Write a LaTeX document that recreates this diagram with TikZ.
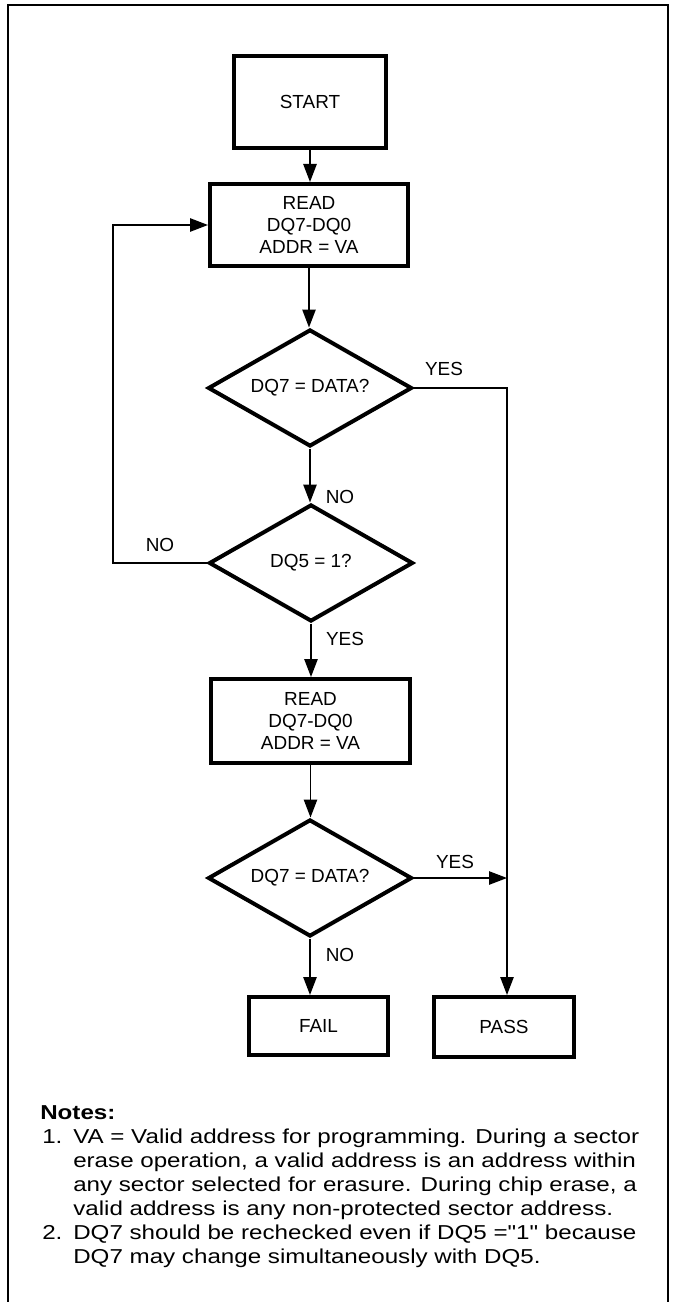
\documentclass[tikz,border=0pt]{standalone}
\usepackage{fontspec}
\setmainfont{Liberation Sans}
\newfontfamily\notesfont[FakeStretch=1.2]{Liberation Sans}
\usetikzlibrary{shapes.geometric,arrows.meta}
\newcommand\flowfont{\fontsize{14.2}{16.5}\selectfont}
\newcommand\notesize{\fontsize{15.1}{18}\selectfont}
\begin{document}
\begin{tikzpicture}[x=0.75pt,y=-0.75pt,
  box/.style={draw,line width=3pt,rectangle,inner sep=0pt,align=center,font=\flowfont},
  dia/.style={draw,line width=3pt,diamond,aspect=1.74,inner sep=0pt,font=\flowfont,
    minimum width=153pt,minimum height=87.75pt},
  conn/.style={line width=1.2pt},
  arr/.style={conn,-{Triangle[length=13.5pt,width=10pt]}},
  lbl/.style={font=\flowfont,inner sep=0pt},
  note/.style={font={\notesfont\notesize},anchor=base west,inner sep=0pt},
  frame/.style={line width=1.6pt}]
\useasboundingbox (0,0) rectangle (673,1302);
% frame
\draw[frame] (8,1302) -- (8,5) -- (668,5) -- (668,1302);
% nodes
\node[box,minimum width=114pt,minimum height=69pt] (start) at (310,102) {START};
\node[box,minimum width=148.5pt,minimum height=61.5pt] (read1) at (309,225) {READ\\DQ7-DQ0\\ADDR = VA};
\node[dia] (d1) at (310,388) {DQ7 = DATA?};
\node[dia] (d2) at (311,563) {DQ5 = 1?};
\node[box,minimum width=149pt,minimum height=63pt] (read2) at (310.5,721) {READ\\DQ7-DQ0\\ADDR = VA};
\node[dia] (d3) at (310,878) {DQ7 = DATA?};
\node[box,minimum width=104pt,minimum height=43.5pt] (fail) at (318.5,1026) {FAIL};
\node[box,minimum width=105pt,minimum height=45pt] (pass) at (504,1027) {PASS};
% coordinates
\coordinate (c1) at (507,388);
\coordinate (c2) at (113,563);
% connectors
\draw[arr] (start.south) -- (start.south |- read1.north);
\draw[arr] (read1.south) -- (read1.south |- d1.north);
\draw[arr] (d1.east) -- (c1) -- (c1 |- pass.north);
\draw[arr] (d1.south) -- (d1.south |- d2.north);
\draw[arr] (d2.west) -- (c2) |- (read1.west);
\draw[arr] (d2.south) -- (d2.south |- read2.north);
\draw[arr] (read2.south) -- (read2.south |- d3.north);
\draw[arr] (d3.east) -- (c1 |- d3.east);
\draw[arr] (d3.south) -- (d3.south |- fail.north);
% labels
\node[lbl] (y1) at (444,369) {YES};
\node[lbl] (n1) at (340,497) {NO};
\node[lbl] (n2) at (160,545) {NO};
\node[lbl] (y2) at (345,639) {YES};
\node[lbl] (y3) at (455,862) {YES};
\node[lbl] (n3) at (340,955) {NO};
% notes
\node[note,font={\notesfont\notesize\bfseries}] (nt) at (40,1119) {Notes:};
\node[note] (k1) at (42,1143) {1.};
\node[note] (l1) at (73,1143) {VA = Valid address for programming. During a sector};
\node[note] (l2) at (73,1167) {erase operation, a valid address is an address within};
\node[note] (l3) at (73,1191) {any sector selected for erasure. During chip erase, a};
\node[note] (l4) at (73,1215) {valid address is any non-protected sector address.};
\node[note] (k2) at (42,1239) {2.};
\node[note] (l5) at (73,1239) {DQ7 should be rechecked even if DQ5 ="1" because};
\node[note] (l6) at (73,1263) {DQ7 may change simultaneously with DQ5.};
\end{tikzpicture}
\end{document}
